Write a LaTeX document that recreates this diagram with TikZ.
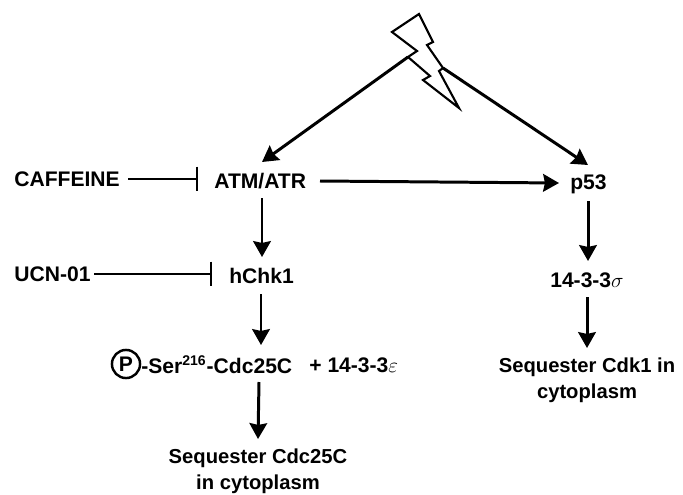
\documentclass[tikz,border=0pt]{standalone}
\usepackage{fontspec}
\setmainfont{Liberation Sans}
\usetikzlibrary{calc,arrows.meta}
\tikzset {>=Stealth}
\tikzset{
  lbl/.style={font=\fontsize{12}{14}\selectfont\bfseries,inner sep=0pt,align=center},
  seq/.style={font=\fontsize{11.5}{14.6}\selectfont\bfseries,inner sep=0pt,align=center},
  act/.style={line width=1.7pt,-{Stealth[length=9pt,width=10pt,inset=1pt]}},
  blk/.style={line width=1.4pt,-{Bar[width=14pt,line width=1.4pt]}},
  bolt/.style={line width=1.2pt,line join=miter}
}
\begin{document}
\begin{tikzpicture}[x=.02cm,y=-.02cm]
\useasboundingbox (0,0) rectangle (683,494);
% bolt
\coordinate (b1) at (419,14);
\coordinate (b2) at (392,32);
\coordinate (b3) at (417,51);
\coordinate (b4) at (408,57);
\coordinate (b5) at (430,76);
\coordinate (b6) at (423,80);
\coordinate (b7) at (459,108);
\coordinate (b8) at (439,71);
\coordinate (b9) at (443,68);
\coordinate (b10) at (427,45);
\coordinate (b11) at (433,42);
\draw[bolt] (b1) -- (b2) -- (b3) -- (b4) -- (b5) -- (b6) -- (b7) -- (b8) -- (b9) -- (b10) -- (b11) -- cycle;
% labels
\node[lbl,anchor=west] (caffeine) at (14,179) {CAFFEINE};
\node[lbl,anchor=west] (atm) at (214,181) {ATM/ATR};
\node[lbl,anchor=west] (p53) at (570,184) {p53};
\node[lbl,anchor=west] (ucn) at (14,274) {UCN-01};
\node[lbl,anchor=west] (chk) at (229,276) {hChk1};
\node[lbl] (sigma) at (587,280) {14-3-3$\sigma$};
\node[draw,circle,line width=1.4pt,minimum size=16pt,inner sep=0pt,
      font=\fontsize{12}{14}\selectfont\bfseries] (phos) at (126,364) {P};
\node[lbl,anchor=west] (ser) at (141,365) {-Ser\textsuperscript{216}-Cdc25C};
\node[lbl,anchor=west] (eps) at (309,365) {+ 14-3-3$\varepsilon$};
\node[seq] (seqc) at (258,471) {Sequester Cdc25C\\in cytoplasm};
\node[seq] (seqk) at (587,380) {Sequester Cdk1 in\\cytoplasm};
% free ends
\coordinate (cafstart) at (128,179);
\coordinate (cafend) at (198,179);
\coordinate (ucnstart) at (94,274);
\coordinate (ucnend) at (212,274);
% arrows
\draw[act] (b4) -- (262,162);
\draw[act] (b9) -- (588,165);
\draw[act] (320,181) -- (559,183);
\draw[act] (262,198) -- (262,257);
\draw[act] (261,294) -- (261,345);
\draw[act] (259,382) -- (258,439);
\draw[act] (588,201) -- (588,261);
\draw[act] (587,297) -- (587,348);
\draw[blk] (cafstart) -- (cafend);
\draw[blk] (ucnstart) -- (ucnend);
\end{tikzpicture}
\end{document}
